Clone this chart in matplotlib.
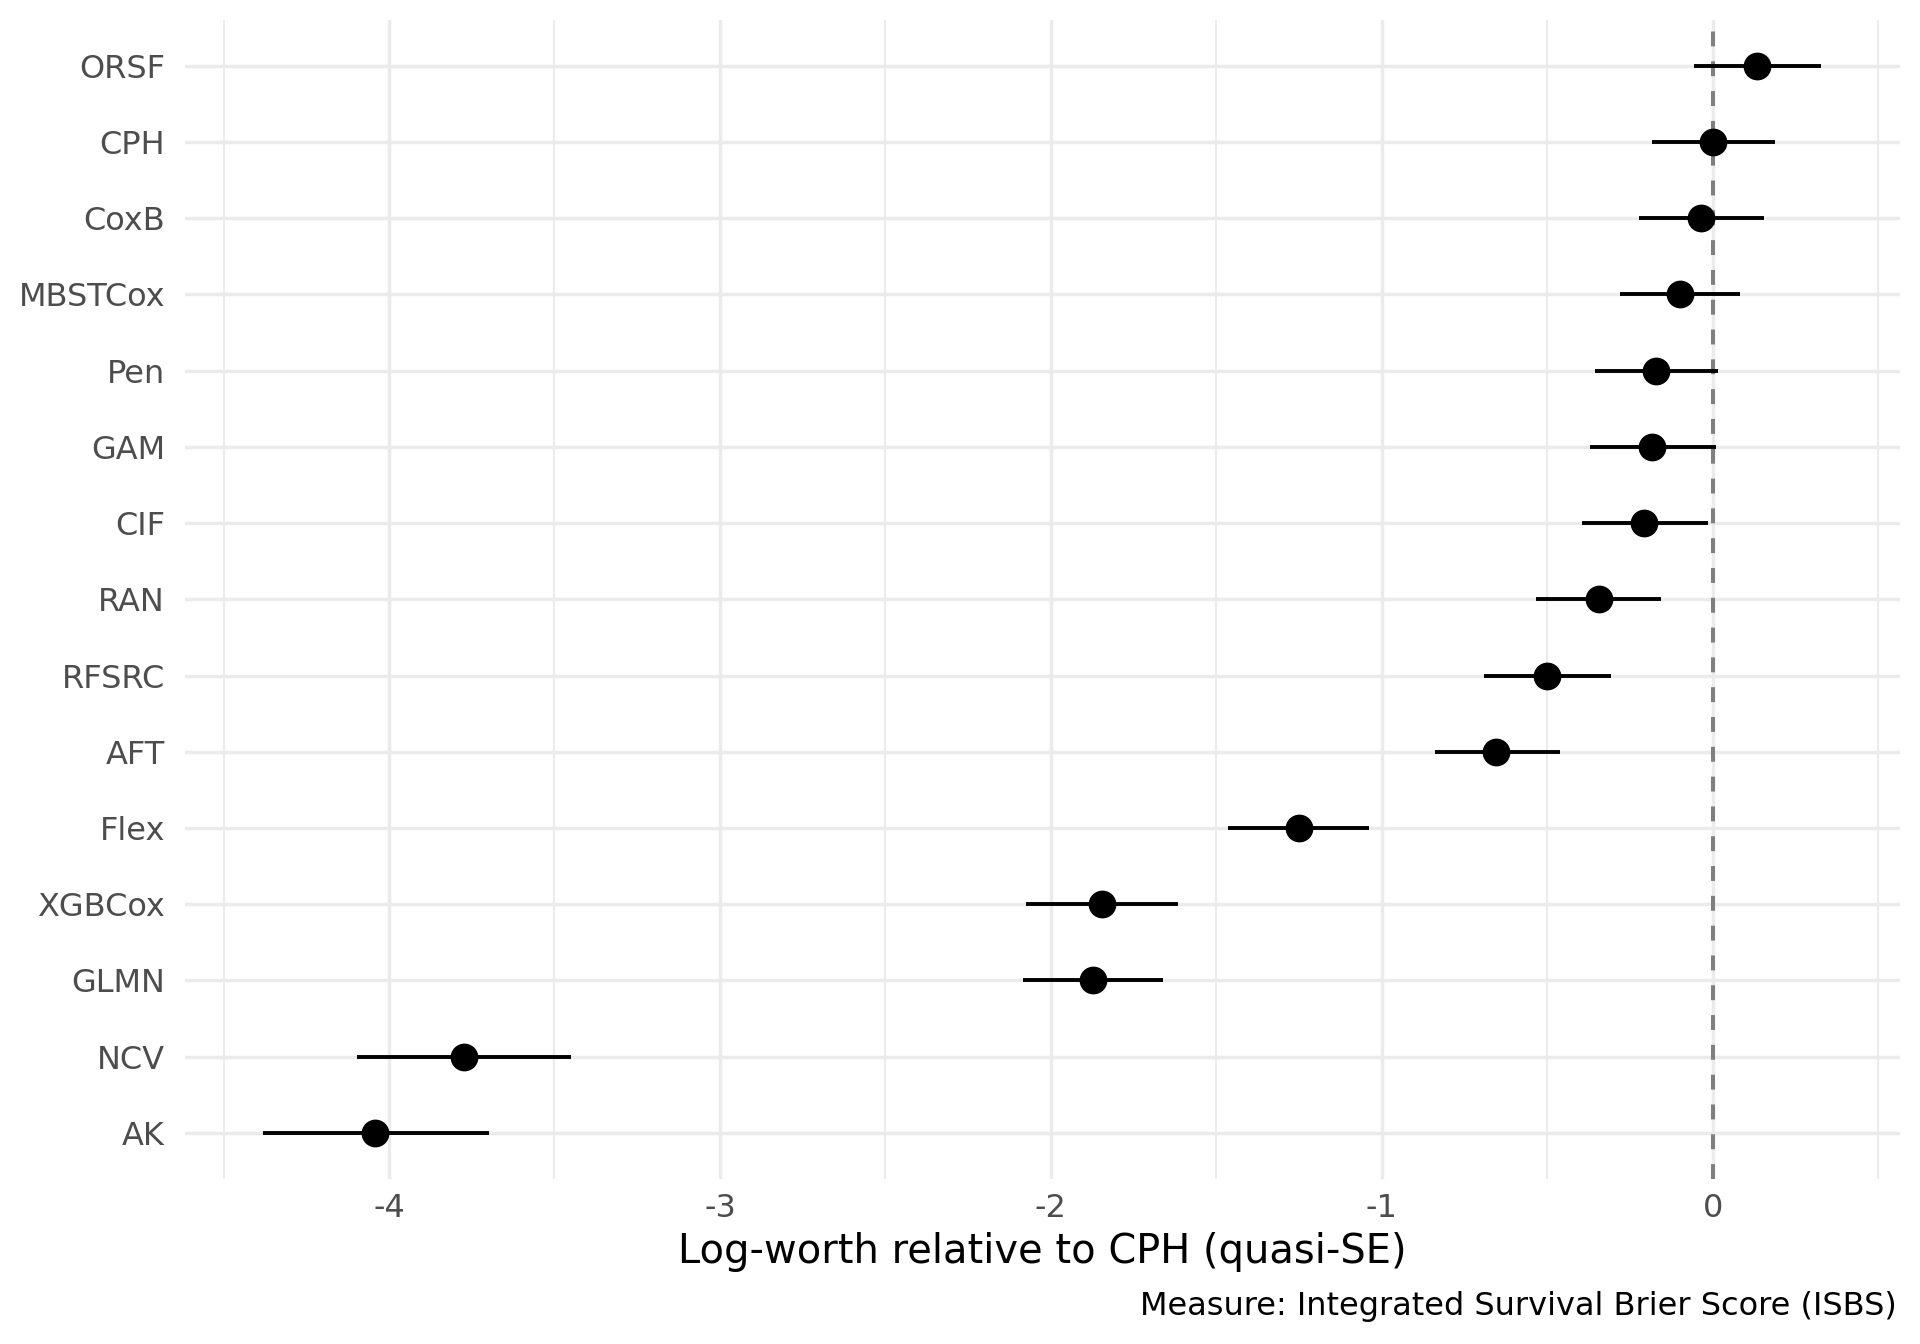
import matplotlib.pyplot as plt

# models, top to bottom
models = ['ORSF', 'CPH', 'CoxB', 'MBSTCox', 'Pen', 'GAM', 'CIF', 'RAN',
          'RFSRC', 'AFT', 'Flex', 'XGBCox', 'GLMN', 'NCV', 'AK']
estimate = [0.135, 0.0, -0.036, -0.100, -0.172, -0.182, -0.207, -0.344,
            -0.500, -0.655, -1.251, -1.846, -1.872, -3.774, -4.041]
lower = [-0.057, -0.185, -0.224, -0.281, -0.357, -0.370, -0.396, -0.533,
         -0.692, -0.840, -1.465, -2.076, -2.083, -4.096, -4.381]
upper = [0.328, 0.187, 0.155, 0.082, 0.016, 0.010, -0.015, -0.155,
         -0.307, -0.463, -1.040, -1.617, -1.661, -3.451, -3.698]
xticks = [-4, -3, -2, -1, 0]
xminor = [-4.5, -3.5, -2.5, -1.5, -0.5, 0.5]

fig = plt.figure(figsize=(9.6, 6.72), dpi=200)
ax = fig.add_axes([0.0961, 0.1230, 0.9896 - 0.0961, 0.9851 - 0.1230])

ypos = list(range(len(models)))

# grid (theme_minimal look)
for v in xminor:
    ax.axvline(v, color='#EBEBEB', lw=0.7, zorder=0)
for v in xticks:
    ax.axvline(v, color='#EBEBEB', lw=1.25, zorder=0)
for y in ypos:
    ax.axhline(y, color='#EBEBEB', lw=1.25, zorder=0)

ax.axvline(0, color='#7F7F7F', lw=1.45, dashes=(3.7, 3.7), zorder=1)

ax.hlines(ypos, lower, upper, color='black', lw=1.4, zorder=2)
ax.plot(estimate, ypos, 'o', color='black', ms=9, zorder=3)

ax.set_xlim(-4.618, 0.566)
ax.set_ylim(len(models) - 1 + 0.6, -0.6)
ax.set_xticks(xticks)
ax.set_xticklabels([str(t) for t in xticks])
ax.set_yticks(ypos)
ax.set_yticklabels(models)
ax.tick_params(axis='both', length=0, labelsize=11.5, labelcolor='#4D4D4D')
ax.tick_params(axis='y', pad=7)
ax.tick_params(axis='x', pad=5)
for s in ax.spines.values():
    s.set_visible(False)

ax.set_xlabel('Log-worth relative to CPH (quasi-SE)', fontsize=14.4, color='black', labelpad=3)
fig.text(1897 / 1920, 1 - 1306 / 1344, 'Measure: Integrated Survival Brier Score (ISBS)',
         ha='right', va='center', fontsize=11.5, color='black')

fig.savefig('out.png', dpi=200, facecolor='white')
